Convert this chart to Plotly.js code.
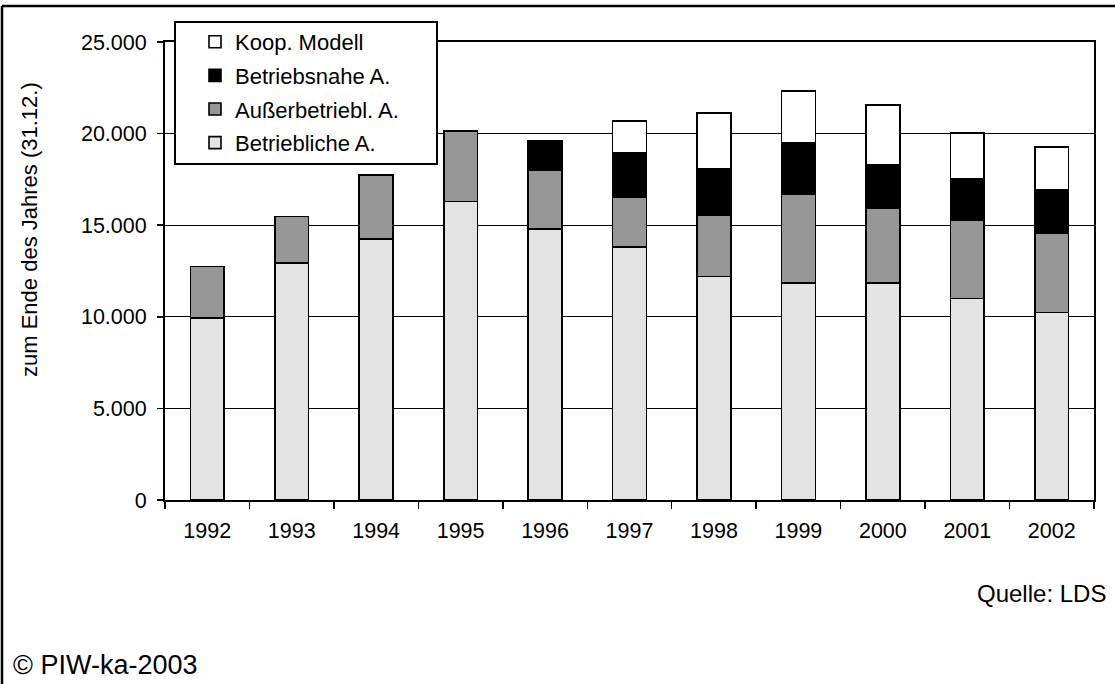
<!DOCTYPE html>
<html>
<head>
<meta charset="utf-8">
<script src="https://cdn.plot.ly/plotly-3.0.1.min.js"></script>
<style>
  html, body { margin: 0; padding: 0; background: #fff; }
  #chart { width: 1115px; height: 684px; }
</style>
</head>
<body>
<div id="chart"></div>
<script>
const years = ['1992','1993','1994','1995','1996','1997','1998','1999','2000','2001','2002'];
const betrieblich = [9920, 12950, 14250, 16290, 14780, 13810, 12190, 11860, 11860, 10990, 10230];
const ausserbetrieblich = [2820, 2520, 3490, 3850, 3235, 2695, 3330, 4840, 4095, 4295, 4330];
const betriebsnah = [0, 0, 0, 0, 1600, 2460, 2585, 2820, 2365, 2275, 2350];
const koopModell = [0, 0, 0, 0, 0, 1730, 3020, 2800, 3240, 2475, 2365];

const seriesNames = ['Betriebliche A.', 'Außerbetriebl. A.', 'Betriebsnahe A.', 'Koop. Modell'];
const seriesValues = [betrieblich, ausserbetrieblich, betriebsnah, koopModell];
const seriesColors = ['#e3e3e3', '#969696', '#000000', '#ffffff'];

const FONT = 'Liberation Sans, Arial, Helvetica, sans-serif';

const traces = seriesNames.map((name, i) => ({
  type: 'bar',
  name: name,
  x: years,
  y: seriesValues[i],
  legendgroup: 'g' + i,
  legendrank: seriesNames.length - i,
  marker: { color: seriesColors[i], line: { color: '#000', width: 1.6 } },
  hoverinfo: 'x+y+name'
}));

// layout geometry helpers (plot area: l=165, r=21, t=42, b=184)
const L = 165, R = 21, T = 42, B = 184, W = 1115, H = 684;
const PW = W - L - R, PH = H - T - B;
const px = x => (x - L) / PW;
const py = y => (H - B - y) / PH;

const layout = {
  width: W, height: H,
  margin: { l: L, r: R, t: T, b: B, pad: 0 },
  paper_bgcolor: '#fff',
  plot_bgcolor: '#fff',
  barmode: 'stack',
  bargap: 0.6,
  separators: ',.',
  font: { family: FONT, size: 21, color: '#000' },
  showlegend: true,
  legend: {
    x: px(195), y: py(21), xanchor: 'left', yanchor: 'top',
    bgcolor: 'rgba(0,0,0,0)', borderwidth: 0,
    font: { family: FONT, size: 22, color: '#000' },
    traceorder: 'grouped',
    tracegroupgap: 2
  },
  xaxis: {
    type: 'category',
    showline: true, linecolor: '#000', linewidth: 2, mirror: true,
    ticks: 'outside', tickson: 'boundaries', ticklen: 7, tickwidth: 1.5, tickcolor: '#000',
    showgrid: false,
    ticklabelstandoff: 10,
    tickfont: { family: FONT, size: 21.5, color: '#000' },
    fixedrange: true
  },
  yaxis: {
    range: [0, 25000], dtick: 5000, tick0: 0,
    tickformat: ',d',
    showline: true, linecolor: '#000', linewidth: 2, mirror: true,
    ticks: 'outside', ticklen: 6, tickwidth: 1.5, tickcolor: '#000',
    showgrid: true, gridcolor: '#000', gridwidth: 1,
    zeroline: false,
    ticklabelstandoff: 6,
    tickfont: { family: FONT, size: 21.5, color: '#000' },
    fixedrange: true
  },
  annotations: [
    {
      text: 'zum Ende des Jahres (31.12.)',
      xref: 'paper', yref: 'paper', x: px(30), y: py(230),
      xanchor: 'center', yanchor: 'middle', textangle: -90, showarrow: false,
      font: { family: FONT, size: 22, color: '#000' }
    },
    {
      text: 'Quelle: LDS',
      xref: 'paper', yref: 'paper', x: px(1108), y: py(593),
      xanchor: 'right', yanchor: 'middle', showarrow: false,
      font: { family: FONT, size: 24, color: '#000' }
    },
    {
      text: '© PIW-ka-2003',
      xref: 'paper', yref: 'paper', x: px(11), y: py(665),
      xanchor: 'left', yanchor: 'middle', showarrow: false,
      font: { family: FONT, size: 27, color: '#000' }
    }
  ],
  shapes: [
    { type: 'line', xref: 'paper', yref: 'paper', x0: px(2), x1: px(1115), y0: py(6), y1: py(6),
      line: { color: '#000', width: 2.5 } },
    { type: 'line', xref: 'paper', yref: 'paper', x0: px(2), x1: px(2), y0: py(6), y1: py(684),
      line: { color: '#000', width: 2.5 } },
    { type: 'rect', xref: 'paper', yref: 'paper', layer: 'above',
      x0: px(175), x1: px(437), y0: py(164), y1: py(22),
      fillcolor: '#fff', line: { color: '#000', width: 2 } }
  ]
};

Plotly.newPlot('chart', traces, layout, { displayModeBar: false, staticPlot: true });
</script>
</body>
</html>
